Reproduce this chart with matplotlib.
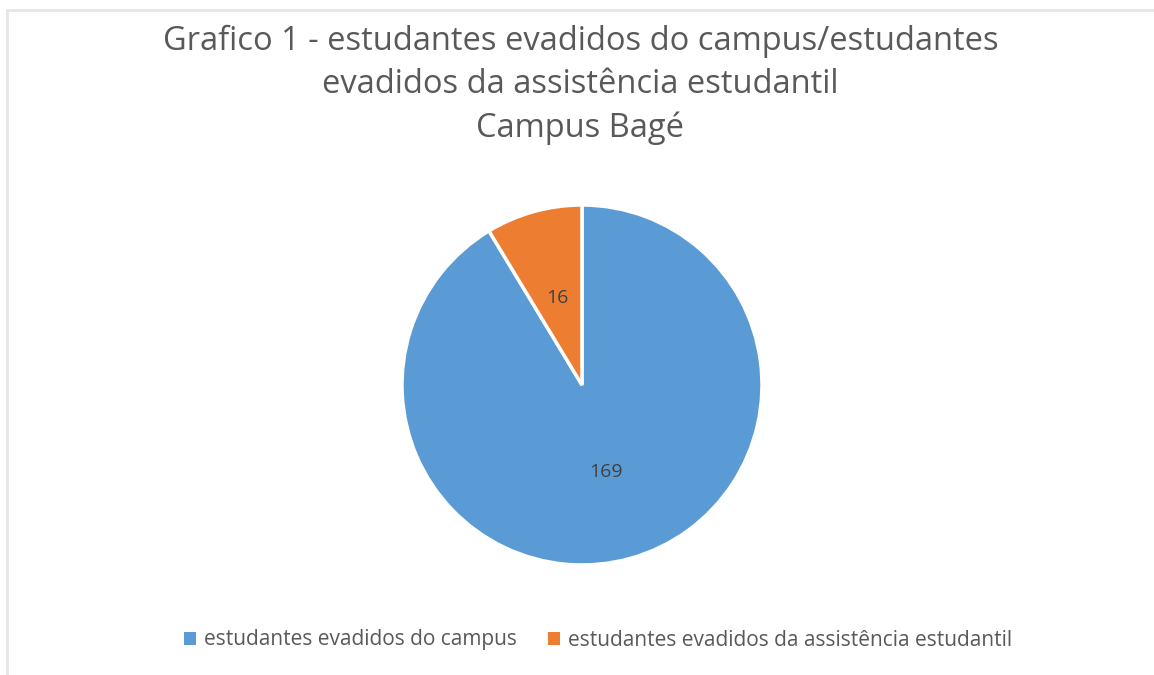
import matplotlib.pyplot as plt
from matplotlib.patches import Rectangle

categorias = ["estudantes evadidos do campus", "estudantes evadidos da assistência estudantil"]
valores = [169, 16]
cores = ["#5B9BD5", "#ED7D31"]
titulo = "Grafico 1 - estudantes evadidos do campus/estudantes\nevadidos da assistência estudantil\nCampus Bagé"

plt.rcParams['font.family'] = ['Open Sans', 'DejaVu Sans']

fig = plt.figure(figsize=(11.54, 6.75), dpi=100)
W, H = 1154, 675

# moldura cinza clara
fig.patches.append(Rectangle((7 / W, -0.1), 1.2, 1 - 10 / H + 0.1, transform=fig.transFigure,
                             fill=False, edgecolor="#e6e6e6", linewidth=2))

fig.text(0.503, 1 - 85 / H, titulo, ha="center", va="center", fontsize=23.5,
         color="#595959", linespacing=1.42)

r = 180
cx, cy = 582, 385
ax = fig.add_axes([(cx - r) / W, 1 - (cy + r) / H, 2 * r / W, 2 * r / H])
wedges, textos, autotextos = ax.pie(valores, colors=cores, startangle=90, counterclock=False,
                                    autopct=lambda p: f"{round(p * sum(valores) / 100):d}",
                                    pctdistance=0.5, labels=None,
                                    wedgeprops=dict(edgecolor="white", linewidth=2.5),
                                    textprops=dict(fontsize=14, color="#404040"))
ax.set_xlim(-1, 1)
ax.set_ylim(-1, 1)
ax.set_aspect("equal")

leg = fig.legend(wedges, categorias, loc="center", bbox_to_anchor=(0.518, 1 - 640 / H),
                 ncol=2, frameon=False, fontsize=15, handlelength=0.6, handleheight=0.6,
                 handletextpad=0.35, columnspacing=1.5, labelcolor="#595959")
for h in leg.legend_handles:
    h.set_edgecolor("none")

fig.savefig("out.png", dpi=100)
